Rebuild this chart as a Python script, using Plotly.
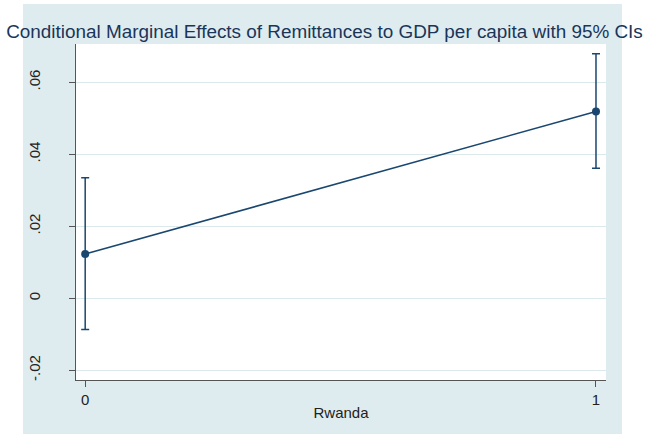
import plotly.graph_objects as go

# Data
rwanda = [0, 1]
estimate = [0.0123, 0.0519]
ci_lower = [-0.0087, 0.0361]
ci_upper = [0.0335, 0.0679]
ytick_vals = [-0.02, 0, 0.02, 0.04, 0.06]
ytick_text = ["-.02", "0", ".02", ".04", ".06"]
xtick_vals = [0, 1]
xtick_text = ["0", "1"]

navy = "#1a476f"
bg = "#DFECEF"
font_family = "Liberation Sans, Arial, sans-serif"

err_plus = [u - e for u, e in zip(ci_upper, estimate)]
err_minus = [e - l for e, l in zip(estimate, ci_lower)]

fig = go.Figure()
fig.add_trace(go.Scatter(
    x=rwanda, y=estimate, mode="lines+markers",
    line=dict(color=navy, width=1.6),
    marker=dict(color=navy, size=8),
    error_y=dict(type="data", symmetric=False, array=err_plus, arrayminus=err_minus,
                 color=navy, thickness=1.5, width=4),
    showlegend=False,
))

W, H = 646, 437
L, R, T, B = 76, 40, 44, 57
pw, ph = W - L - R, H - T - B

def px_x(p):
    return (p - L) / pw

def px_y(p):
    return (H - B - p) / ph

fig.update_layout(
    width=W, height=H,
    margin=dict(l=L, r=R, t=T, b=B),
    paper_bgcolor="white",
    plot_bgcolor="white",
    font=dict(family=font_family, color="#222"),
    title=dict(text="Conditional Marginal Effects of Remittances to GDP per capita with 95% CIs",
               x=(7 + 642) / 2 / W, xref="container", xanchor="center",
               y=1 - 31 / H, yref="container", yanchor="middle",
               font=dict(size=18.9, color="#1a3558", family=font_family)),
    shapes=[
        dict(type="rect", xref="paper", yref="paper", layer="below",
             x0=px_x(23), x1=px_x(622), y0=px_y(434), y1=px_y(4),
             fillcolor=bg, line=dict(width=0)),
        dict(type="rect", xref="paper", yref="paper", layer="below",
             x0=0, x1=1, y0=0, y1=1,
             fillcolor="white", line=dict(width=0)),
    ],
    xaxis=dict(
        range=[-0.018, 1.0196],
        tickvals=xtick_vals, ticktext=xtick_text,
        ticks="outside", ticklen=6, tickcolor="#555", tickwidth=1,
        showline=True, linecolor="#555", linewidth=1,
        showgrid=False, zeroline=False,
        tickfont=dict(size=15, color="#222"),
        title=dict(text="Rwanda", font=dict(size=15, color="#222"), standoff=0),
    ),
    yaxis=dict(
        range=[-0.0227, 0.07064],
        tickvals=ytick_vals, ticktext=ytick_text,
        tickangle=-90,
        ticks="outside", ticklen=6, tickcolor="#555", tickwidth=1,
        ticklabelstandoff=23,
        showline=True, linecolor="#555", linewidth=1,
        showgrid=True, gridcolor="#DCE9EC", gridwidth=1,
        zeroline=False,
        tickfont=dict(size=15, color="#222"),
    ),
)

fig.write_html("out.html")
